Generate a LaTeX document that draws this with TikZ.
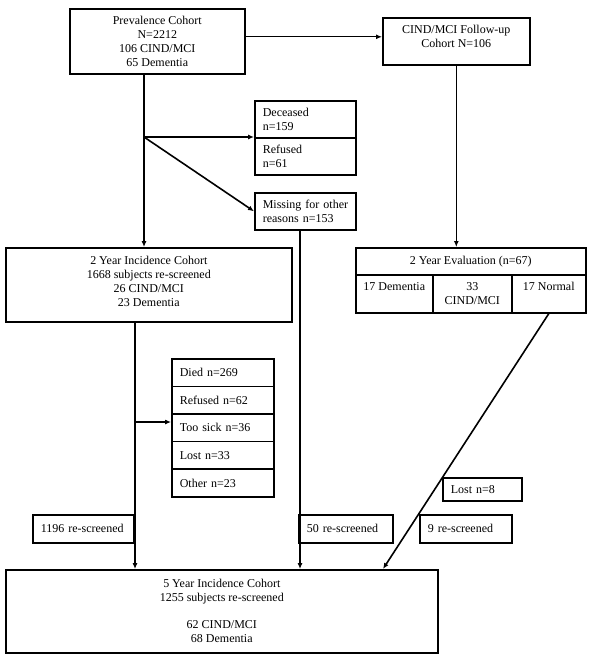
\documentclass[tikz,border=0pt]{standalone}
\usepackage{fontspec}
\setmainfont{Liberation Serif}
\usetikzlibrary{arrows.meta}
\begin{document}
\begin{tikzpicture}[x=1pt,y=-1pt,
  every node/.style={font=\fontsize{12pt}{14pt}\selectfont},
  cbox/.style={draw, line width=1.6pt, anchor=north west, align=center, inner sep=0pt},
  lbox/.style={draw, line width=1.6pt, anchor=north west, align=left, inner xsep=8pt, inner ysep=0pt},
  conn/.style={line width=1.1pt},
  arr/.style={conn, -{Latex[length=6pt,width=5pt]}},
  darr/.style={line width=1.6pt, -{Latex[length=6pt,width=5pt]}}]
\useasboundingbox (0,0) rectangle (596,658);

% main boxes
\node[cbox, minimum width=175pt, minimum height=65pt] (prev) at (69,8) {Prevalence Cohort\\N=2212\\106 CIND/MCI\\65 Dementia};
\node[cbox, minimum width=147pt, minimum height=47pt] (cind) at (382,17) {CIND/MCI Follow-up\\Cohort N=106\\[-4pt]\mbox{}};
\node[lbox, text width=85pt, minimum height=37pt] (dec) at (254,100) {Deceased\\n=159};
\node[lbox, text width=85pt, minimum height=37pt] (ref) at (254,137) {Refused\\n=61};
\node[lbox, text width=91pt, inner xsep=5pt, minimum height=37pt] (miss) at (254,192) {\hspace*{3pt}Missing for other\\\hspace*{3pt}reasons n=153};
\node[cbox, minimum width=286pt, minimum height=74pt] (inc2) at (5,247) {2 Year Incidence Cohort\\1668 subjects re-screened\\26 CIND/MCI\\23 Dementia\\[-8pt]\mbox{}};

% evaluation table
\node[cbox, minimum width=230pt, minimum height=27pt] (eval) at (355,247) {2 Year Evaluation (n=67)};
\node[cbox, minimum width=77pt, minimum height=38pt] (dem) at (355,274) {17 Dementia\\\mbox{}};
\node[cbox, minimum width=79pt, minimum height=38pt] (mci) at (432,274) {33\\CIND/MCI};
\node[cbox, minimum width=74pt, minimum height=38pt] (normal) at (511,274) {17 Normal\\\mbox{}};

% loss list
\node[lbox, text width=86pt, minimum height=27.6pt] (died) at (171,358) {Died n=269};
\node[lbox, text width=86pt, minimum height=27.6pt] (refd) at (171,385.6) {Refused n=62};
\node[lbox, text width=86pt, minimum height=27.6pt] (sick) at (171,413.2) {Too sick n=36};
\node[lbox, text width=86pt, minimum height=27.6pt] (lost) at (171,440.8) {Lost n=33};
\node[lbox, text width=86pt, minimum height=27.6pt] (oth) at (171,468.4) {Other n=23};

% small boxes
\node[lbox, text width=63pt, minimum height=23pt] (lost8) at (442,477) {Lost n=8};
\node[lbox, text width=76pt, minimum height=28pt] (resc9) at (419,514) {9 re-screened};
\node[lbox, text width=78pt, minimum height=28pt] (resc50) at (298,514) {50 re-screened};
\node[lbox, text width=85pt, minimum height=28pt] (resc1196) at (32,514) {1196 re-screened};

% final
\node[cbox, minimum width=432pt, minimum height=83pt] (fivey) at (5,569) {5 Year Incidence Cohort\\1255 subjects re-screened\\[13pt]62 CIND/MCI\\68 Dementia};

% connectors
\coordinate (pa) at ([yshift=4.5pt]prev.east);
\draw[arr] (pa) -- (pa -| cind.west);
\coordinate (b1) at (144,137);
\draw[conn] (b1 |- prev.south) -- (b1);
\draw[arr] (b1) -- (b1 |- inc2.north);
\draw[arr] (b1) -- (b1 -| dec.west);
\draw[darr] (b1) -- (miss.west);
\draw[arr] (cind.south) -- (cind.south |- eval.north);
\coordinate (mx) at (300,229);
\draw[arr] (mx |- miss.south) -- (mx |- fivey.north);
\coordinate (b2) at (135,422);
\draw[conn] (b2 |- inc2.south) -- (b2);
\draw[arr] (b2) -- (b2 -| sick.west);
\draw[arr] (b2) -- (b2 |- fivey.north);
\coordinate (d5) at (383,569);
\draw[darr] (normal.south) -- (d5);
\end{tikzpicture}
\end{document}
